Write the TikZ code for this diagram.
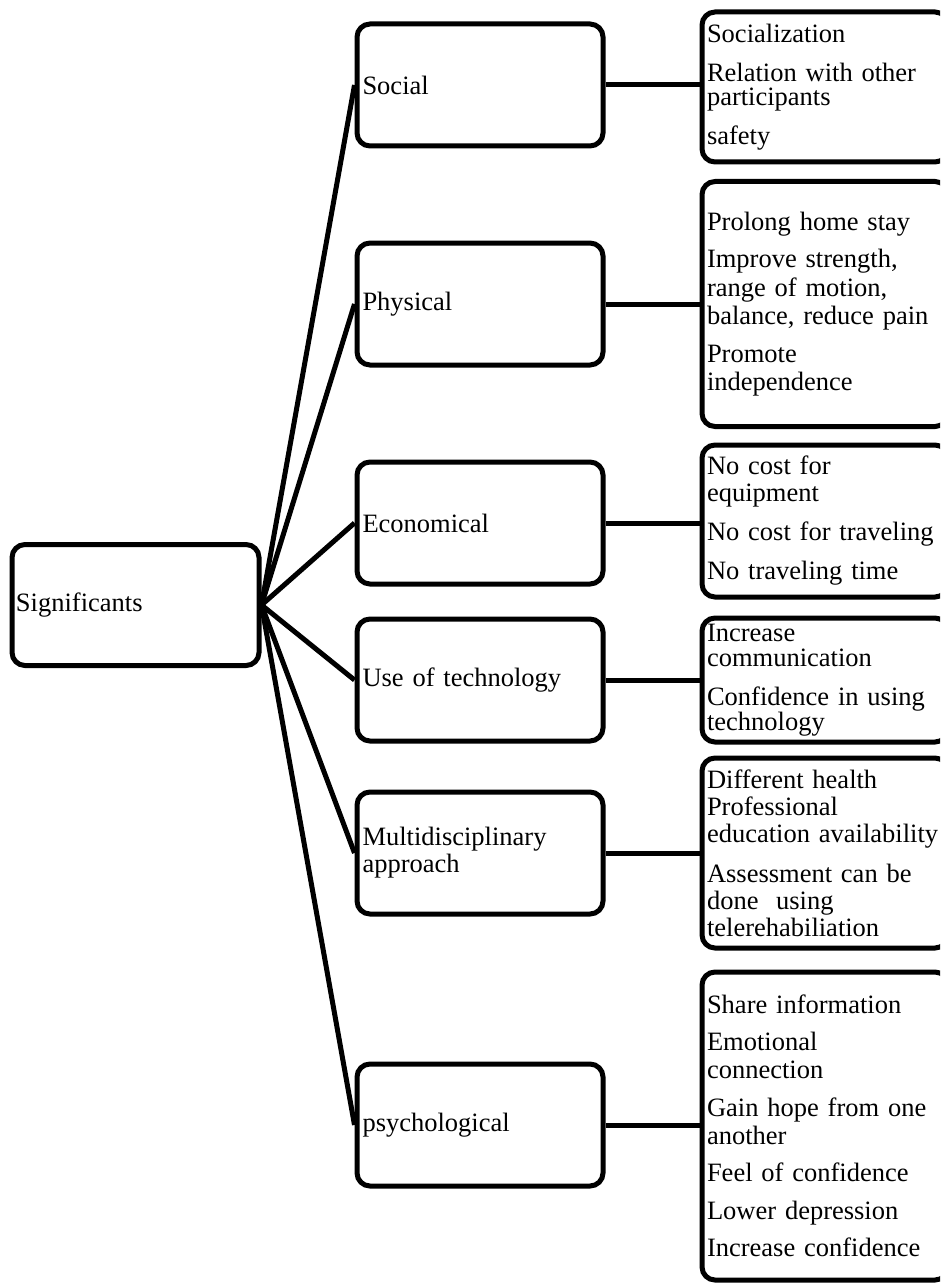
\documentclass[tikz,border=0pt]{standalone}
\usepackage{fontspec}
\setmainfont{Liberation Serif}

\begin{document}
\begin{tikzpicture}[x=1pt,y=-1pt,line width=5pt,
	box/.style={draw,rounded corners=13pt,align=left,font=\fontsize{26.5}{27}\selectfont},
	rootbox/.style={box,text width=239pt,inner xsep=4pt,minimum height=121pt},
	catbox/.style={box,text width=235pt,inner xsep=5.5pt,minimum height=122pt},
	leafbox/.style={box,text width=236pt,inner xsep=5pt}]
	\clip (0,0) rectangle (940,1284);
	\node[rootbox] (sig) at (135.5,605) {Significants};
	\node[catbox] (soc) at (480,85) {Social};
	\node[catbox] (phy) at (480,304) {Physical};
	\node[catbox] (eco) at (480,523) {Economical};
	\node[catbox] (tec) at (480,680) {Use of technology};
	\node[catbox] (mul) at (480,853) {Multidisciplinary\\approach};
	\node[catbox] (psy) at (480,1125) {psychological};
	\node[leafbox,minimum height=150pt,font=\fontsize{26.5}{24.5}\selectfont] (socL) at (825,87)
		{Socialization\\[14pt]Relation with other\\participants\\[14pt]safety};
	\node[leafbox,minimum height=245pt,font=\fontsize{26.5}{28.5}\selectfont] (phyL) at (825,304)
		{Prolong home stay\\[9pt]Improve strength,\\range of motion,\\balance, reduce pain\\[9pt]Promote\\independence};
	\node[leafbox,minimum height=152pt] (ecoL) at (825,521)
		{No cost for\\equipment\\[12pt]No cost for traveling\\[12pt]No traveling time};
	\node[leafbox,minimum height=124pt,font=\fontsize{26.5}{25}\selectfont] (tecL) at (825,680)
		{Increase\\communication\\[14pt]Confidence in using\\technology};
	\node[leafbox,minimum height=190pt] (mulL) at (825,853)
		{Different health\\Professional\\education availability\\[13pt]Assessment can be\\done~ using\\telerehabiliation};
	\node[leafbox,minimum height=308pt,font=\fontsize{26.5}{28}\selectfont] (psyL) at (825,1126)
		{Share information\\[9.5pt]Emotional\\connection\\[9.5pt]Gain hope from one\\another\\[9.5pt]Feel of confidence\\[9.5pt]Lower depression\\[9.5pt]Increase confidence};
	\foreach \c in {soc,phy,eco,tec,mul,psy}
		\draw (sig.east) -- (\c.west);
	\foreach \a/\b in {soc/socL,phy/phyL,eco/ecoL,tec/tecL,mul/mulL,psy/psyL}
		\draw (\a.east) -- (\a.east -| \b.west);
\end{tikzpicture}
\end{document}
